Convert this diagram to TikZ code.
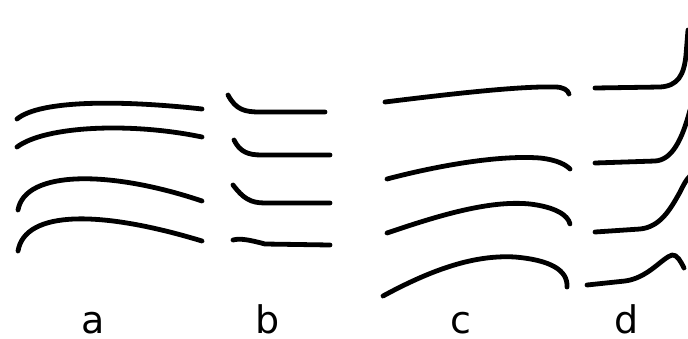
\documentclass[tikz,border=0pt]{standalone}
\usepackage{fontspec}
\setmainfont{DejaVu Sans}
\begin{document}
\begin{tikzpicture}[x=1pt,y=-1pt,
  stroke/.style={line width=4.8pt,line cap=round,line join=round,black},
  lbl/.style={anchor=base,inner sep=0pt,font=\fontsize{38}{46}\selectfont}]
\useasboundingbox (0,0) rectangle (688,338);
\begin{scope}
\clip (0,0) rectangle (688,338);
% group a
\draw[stroke] (17,119) .. controls (40,100) and (120,100) .. (202,109);
\draw[stroke] (17,147) .. controls (45,126) and (130,122) .. (202,137);
\draw[stroke] (18,210) .. controls (25,170) and (110,170) .. (202,201);
\draw[stroke] (18,251) .. controls (25,210) and (100,210) .. (202,241);
% group b
\draw[stroke] (228,95) .. controls (236,110) and (245,112) .. (260,112) -- (325,112);
\draw[stroke] (234,140) .. controls (240,152) and (248,155) .. (262,155) -- (330,155);
\draw[stroke] (233,185) .. controls (243,198) and (250,203) .. (265,203) -- (330,203);
\draw[stroke] (233,240) .. controls (240,238) and (250,240) .. (265,244) -- (330,245);
% group c
\draw[stroke] (385,102) .. controls (450,94) and (520,86) .. (555,87) .. controls (563,87) and (568,90) .. (569,94);
\draw[stroke] (387,179) .. controls (440,165) and (500,155) .. (540,158) .. controls (558,160) and (566,165) .. (570,169);
\draw[stroke] (387,233) .. controls (440,215) and (490,200) .. (530,204) .. controls (555,207) and (568,215) .. (570,224);
\draw[stroke] (383,296) .. controls (440,265) and (480,255) .. (515,257) .. controls (550,260) and (568,270) .. (567,287);
% group d
\draw[stroke] (595,88) -- (660,87) .. controls (678,86) and (684,75) .. (686,55) -- (688,30);
\draw[stroke] (595,163) -- (655,161) .. controls (672,160) and (682,140) .. (690,110);
\draw[stroke] (595,232) -- (640,229) .. controls (660,227) and (670,210) .. (680,192) .. controls (684,184) and (686,180) .. (690,176);
\draw[stroke] (587,285) -- (625,281) .. controls (648,278) and (662,258) .. (672,255) .. controls (677,254) and (681,262) .. (684,268);
\end{scope}
% labels
\node[lbl] (la) at (93,333) {a};
\node[lbl] (lb) at (268,333) {b};
\node[lbl] (lc) at (461,333) {c};
\node[lbl] (ld) at (627,333) {d};
\end{tikzpicture}
\end{document}
